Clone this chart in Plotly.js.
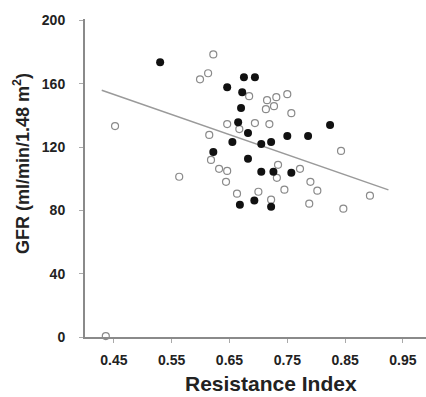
<!DOCTYPE html>
<html>
<head>
<meta charset="utf-8">
<script src="https://cdn.plot.ly/plotly-3.0.1.min.js"></script>
<style>html,body{margin:0;padding:0;background:#fff;}#chart{width:426px;height:397px;}</style>
</head>
<body>
<div id="chart"></div>
<script>
// Filled markers (group 1)
const filledRI  = [0.530,0.646,0.675,0.694,0.672,0.670,0.665,0.682,0.655,0.705,0.722,0.750,0.786,0.824,0.622,0.682,0.705,0.726,0.757,0.668,0.693,0.722];
const filledGFR = [173.6,157.9,164.2,164.2,154.7,144.7,135.8,128.9,123.3,122.0,123.3,127.0,127.0,134.0,117.0,112.6,104.4,104.4,103.8,83.6,86.2,82.4];
// Open markers (group 2)
const openRI  = [0.452,0.563,0.622,0.599,0.613,0.615,0.618,0.684,0.715,0.731,0.750,0.713,0.727,0.757,0.646,0.694,0.719,0.843,0.632,0.646,0.644,0.663,0.734,0.732,0.745,0.772,0.790,0.802,0.788,0.700,0.722,0.893,0.847,0.436,0.667];
const openGFR = [133.3,101.3,178.6,162.9,166.7,127.7,111.9,152.2,149.7,151.6,153.5,144.0,145.9,141.5,134.6,135.2,134.6,117.6,106.3,105.0,98.1,90.6,108.8,100.6,93.1,106.3,98.1,92.5,84.3,91.8,86.8,89.3,81.1,0.6,131.4];
// Regression line end points
const fitRI  = [0.429, 0.925];
const fitGFR = [156, 93];
// Axis ticks
const xTicks = [0.45,0.55,0.65,0.75,0.85,0.95];
const xTickText = ['0.45','0.55','0.65','0.75','0.85','0.95'];
const yTicks = [0,40,80,120,160,200];

const traces = [
  {x: fitRI, y: fitGFR, mode:'lines', line:{color:'#9a9a9a', width:1.5}, hoverinfo:'skip', cliponaxis:false},
  {x: openRI, y: openGFR, mode:'markers', marker:{symbol:'circle-open', size:7, color:'#8a8a8a', line:{width:1.2}}, cliponaxis:false},
  {x: filledRI, y: filledGFR, mode:'markers', marker:{symbol:'circle', size:8, color:'#111'}, cliponaxis:false}
];

const font = 'Arial, "Liberation Sans", Helvetica, sans-serif';
const layout = {
  width:426, height:397,
  margin:{l:85, r:0, t:19, b:60},
  paper_bgcolor:'#fff', plot_bgcolor:'#fff',
  showlegend:false,
  font:{family:font, color:'#222'},
  xaxis:{range:[0.40,0.99], tickvals:xTicks, ticktext:xTickText, showgrid:false, zeroline:false,
         showline:true, linecolor:'#8a8a8a', linewidth:2, ticks:'outside', ticklen:4, tickcolor:'#aaa', tickwidth:1,
         tickfont:{family:font, size:14, color:'#222', weight:'bold'}, ticklabelstandoff:5},
  yaxis:{range:[0,201], tickvals:yTicks, showgrid:false, zeroline:false,
         showline:true, linecolor:'#8a8a8a', linewidth:2, ticks:'outside', ticklen:4, tickcolor:'#aaa', tickwidth:1,
         tickfont:{family:font, size:14, color:'#222', weight:'bold'}, ticklabelstandoff:11},
  annotations:[
    {text:'<b>Resistance Index</b>', xref:'paper', yref:'paper', x:(271-85)/341, y:-(383-337)/318, xanchor:'center', yanchor:'middle',
     showarrow:false, font:{family:font, size:21, color:'#222'}},
    {text:'<b>GFR (ml/min/1.48 m<sup>2</sup>)</b>', xref:'paper', yref:'paper', x:-(85-21)/341, y:(337-164)/318, xanchor:'center', yanchor:'middle',
     textangle:-90, showarrow:false, font:{family:font, size:18, color:'#222'}}
  ]
};
Plotly.newPlot('chart', traces, layout, {staticPlot:true, displayModeBar:false});
</script>
</body>
</html>
